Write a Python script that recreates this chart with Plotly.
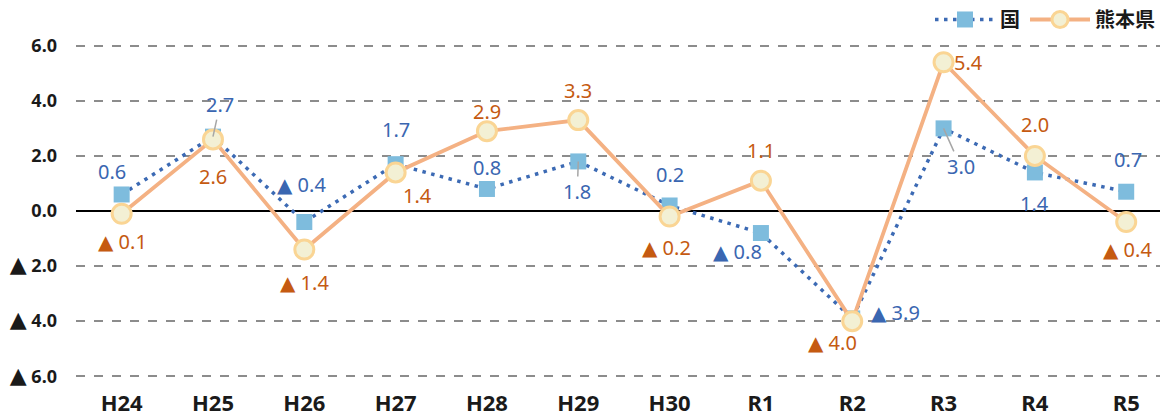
import plotly.graph_objects as go

categories = ["H24", "H25", "H26", "H27", "H28", "H29", "H30", "R1", "R2", "R3", "R4", "R5"]
kuni = [0.6, 2.7, -0.4, 1.7, 0.8, 1.8, 0.2, -0.8, -3.9, 3.0, 1.4, 0.7]
kumamoto = [-0.1, 2.6, -1.4, 1.4, 2.9, 3.3, -0.2, 1.1, -4.0, 5.4, 2.0, -0.4]
y_ticks = [6, 4, 2, 0, -2, -4, -6]

# label offsets in pixels (dx, dy; dy positive = down)
kuni_off = [(-10, -23), (7, -32), (-3, -38), (0, -35), (0, -21), (-1, 30), (0, -31),
            (-23, 18), (43, -6), (17, 38), (0, 31), (2, -32)]
kuni_leader = [False, True, False, False, False, True, False, False, False, True, False, False]
kum_off = [(1, 28), (0, 37), (0, 33), (22, 23), (0, -20), (0, -30), (-3, 31),
           (0, -30), (-20, 21), (25, 0), (0, -31), (1, 27)]

BLUE_TXT = "#3A66B1"
ORANGE_TXT = "#C55A11"
TRI = '<span style="font-family:DejaVu Sans;font-size:{s}px">▲</span> '


def fmt(v, s=20):
    return (TRI.format(s=s) if v < 0 else "") + f"{abs(v):.1f}"


fig = go.Figure()
fig.add_trace(go.Scatter(
    x=categories, y=kuni, name="国", mode="lines+markers",
    line=dict(color="#3C6AB4", width=3.5, dash="3.5px,5.5px"),
    marker=dict(symbol="square", size=16, color="#7EBCDD", line=dict(width=0)),
))
fig.add_trace(go.Scatter(
    x=categories, y=kumamoto, name="熊本県", mode="lines+markers",
    line=dict(color="#F4B183", width=3.8),
    marker=dict(symbol="circle", size=19, color="#F3F0D4", line=dict(color="#FAD594", width=3)),
))

annotations = []
font_lbl = "Noto Sans, Open Sans, sans-serif"
for i, (c, v) in enumerate(zip(categories, kuni)):
    dx, dy = kuni_off[i]
    if kuni_leader[i]:
        annotations.append(dict(x=c, y=v, text=fmt(v), showarrow=True, ax=dx, ay=dy,
                                arrowhead=0, arrowwidth=1.5, arrowcolor="#A6A6A6", standoff=0,
                                font=dict(color=BLUE_TXT, size=20, family=font_lbl)))
    else:
        annotations.append(dict(x=c, y=v, text=fmt(v), showarrow=False, xshift=dx, yshift=-dy,
                                font=dict(color=BLUE_TXT, size=20, family=font_lbl)))
for i, (c, v) in enumerate(zip(categories, kumamoto)):
    dx, dy = kum_off[i]
    annotations.append(dict(x=c, y=v, text=fmt(v), showarrow=False, xshift=dx, yshift=-dy,
                            font=dict(color=ORANGE_TXT, size=20, family=font_lbl)))

fig.update_layout(
    width=1162, height=417,
    margin=dict(l=76, r=2, t=43, b=38, autoexpand=False),
    paper_bgcolor="white", plot_bgcolor="white",
    showlegend=True,
    legend=dict(orientation="h", x=1.0, xanchor="right", y=1.07, yanchor="middle",
                font=dict(size=20, color="#1a1a1a", family="Noto Sans CJK JP", weight="bold"),
                itemwidth=60, bgcolor="rgba(0,0,0,0)", traceorder="normal"),
    annotations=annotations,
    font=dict(family="Noto Sans, sans-serif"),
)
fig.update_xaxes(
    type="category", range=[-0.5, 11.37], showgrid=False, zeroline=False, showline=False,
    ticks="", ticklabelstandoff=9, automargin=False,
    tickfont=dict(size=22, color="#1a1a1a", family="Noto Sans", weight="bold"),
)
fig.update_yaxes(
    range=[-6.1, 6.1], tickvals=y_ticks, ticktext=[fmt(v, 22) for v in y_ticks],
    showgrid=True, gridcolor="#8C8C8C", griddash="dash", gridwidth=1.5,
    zeroline=True, zerolinecolor="#000000", zerolinewidth=1.5,
    showline=False, ticks="", ticklabelstandoff=18, automargin=False,
    tickfont=dict(size=18, color="#1a1a1a", family="Noto Sans", weight="bold"),
)

fig.write_html("out.html", post_script="document.body.style.margin='0';",
               config={"displayModeBar": False})
